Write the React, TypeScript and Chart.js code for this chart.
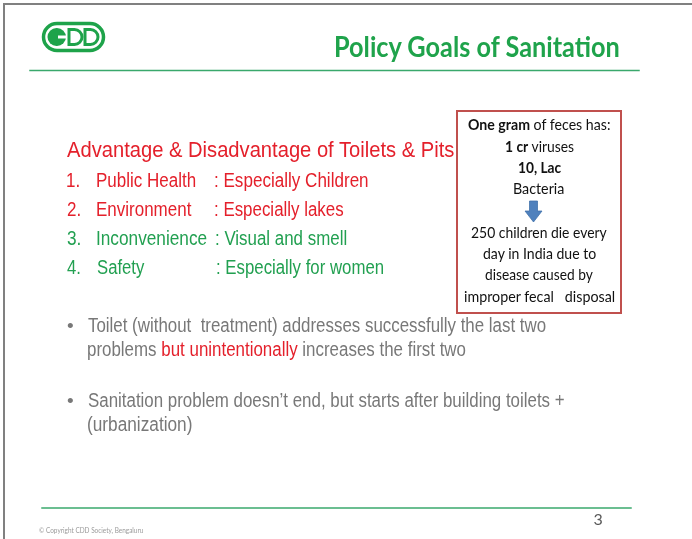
import React, { useEffect, useRef } from 'react';
import { Chart, registerables } from 'chart.js';

Chart.register(...registerables);

// ---------------- content ----------------
const slideTitle = 'Policy Goals of Sanitation';
const heading = 'Advantage & Disadvantage of Toilets & Pits';
const itemNumbers = ['1.', '2.', '3.', '4.'];
const itemLabels = ['Public Health', 'Environment', 'Inconvenience', 'Safety'];
const itemDetails = [': Especially Children', ': Especially lakes', ': Visual and smell', ': Especially for women'];
const itemKinds = ['problem', 'problem', 'solved', 'solved'];

type Seg = { t: string; b?: boolean; c?: string };

const bulletLines: Seg[][] = [
  [{ t: 'Toilet (without  treatment) addresses successfully the last two' }],
  [{ t: 'problems ' }, { t: 'but unintentionally', c: 'red' }, { t: ' increases the first two' }],
  [{ t: 'Sanitation problem doesn\u2019t end, but starts after building toilets +' }],
  [{ t: '(urbanization)' }],
];
const bulletStarts = [true, false, true, false];

const factLines: Seg[][] = [
  [{ t: 'One gram', b: true }, { t: ' of feces has:' }],
  [{ t: '1 cr', b: true }, { t: ' viruses' }],
  [{ t: '10, Lac', b: true }],
  [{ t: 'Bacteria' }],
];
const outcomeLines = ['250 children die every', 'day in India due to', 'disease caused by', 'improper fecal   disposal'];
const pageNumber = '3';
const copyright = '\u00A9 Copyright CDD Society, Bengaluru';

// ---------------- layout & style ----------------
const W = 692;
const H = 539;
const COLORS = {
  titleGreen: '#1fa34b',
  rule: '#3aa86c',
  red: '#e4202b',
  listGreen: '#22a051',
  gray: '#787878',
  border: '#808080',
  boxBorder: '#c0504d',
  arrow: '#4f81bd',
  arrowEdge: '#3d6fa8',
  boxText: '#111111',
  logo: '#1ea34a',
};
const CALIBRI = 'Lato, "Open Sans", sans-serif';
const ARIAL = '"Liberation Sans", Arial, sans-serif';

const listBaselines = [187, 216, 245, 274];
const labelWidths = [98.5, 95, 109.5, 47.5];
const detailLefts = [215, 215, 216, 216.7];
const detailWidths = [153, 129, 131, 166.5];
const bulletBaselines = [332, 356, 407, 431];
const bulletWidths = [458, 378, 476, 104];
const factBaselines = [130, 151.7, 172.7, 194];
const factWidths = [142, 69, 43, 50];
const outcomeBaselines = [238, 259, 280, 301.7];
const outcomeWidths = [136, 113, 108, 151];

// ---------------- text measuring helper ----------------
let mctx: CanvasRenderingContext2D | null = null;
function ctx2d() {
  if (!mctx) mctx = document.createElement('canvas').getContext('2d');
  return mctx as CanvasRenderingContext2D;
}
function fontStr(size: number, family: string, bold?: boolean) {
  return `${bold ? 'bold ' : ''}${size}px ${family}`;
}

interface TxtProps {
  segs: Seg[];
  size: number;
  family: string;
  baseline: number;
  left?: number;
  center?: number;
  width?: number;
  scale?: number;
  color: string;
  bold?: boolean;
  redColor?: string;
}

function inkInfo(segs: Seg[], size: number, family: string, bold?: boolean) {
  const c = ctx2d();
  let adv = 0, abl = 0, overR = 0;
  segs.forEach((s, i) => {
    c.font = fontStr(size, family, s.b ?? bold);
    const m = c.measureText(s.t);
    if (i === 0) abl = m.actualBoundingBoxLeft;
    if (i === segs.length - 1) overR = m.actualBoundingBoxRight - m.width;
    adv += m.width;
  });
  return { ink: adv + abl + overR, abl };
}

function fitScale(segs: Seg[], size: number, family: string, width: number, bold?: boolean) {
  return width / inkInfo(segs, size, family, bold).ink;
}

function Txt(p: TxtProps) {
  const c = ctx2d();
  const { ink, abl } = inkInfo(p.segs, p.size, p.family, p.bold);
  const sx = p.scale ?? (p.width ? p.width / ink : 1);
  const inkW = ink * sx;
  const inkLeft = p.left !== undefined ? p.left : (p.center as number) - inkW / 2;
  const divLeft = inkLeft + abl * sx;
  c.font = fontStr(p.size, p.family, p.bold);
  const mm = c.measureText('Hg');
  const A = mm.fontBoundingBoxAscent;
  const D = mm.fontBoundingBoxDescent;
  const lh = Math.ceil(A + D);
  const top = p.baseline - ((lh - (A + D)) / 2 + A);
  return (
    <div
      style={{
        position: 'absolute',
        left: divLeft,
        top,
        fontSize: p.size,
        fontFamily: p.family,
        fontWeight: p.bold ? 'bold' : 'normal',
        lineHeight: `${lh}px`,
        whiteSpace: 'pre',
        color: p.color,
        transform: `scaleX(${sx})`,
        transformOrigin: '0 0',
      }}
    >
      {p.segs.map((s, i) => (
        <span
          key={i}
          style={{
            fontWeight: s.b !== undefined ? (s.b ? 'bold' : 'normal') : undefined,
            color: s.c === 'red' ? p.redColor : undefined,
          }}
        >
          {s.t}
        </span>
      ))}
    </div>
  );
}

// ---------------- decorative plugin (logo + arrow) ----------------
const decorPlugin = {
  id: 'slideDecor',
  afterDatasetsDraw(chart: any) {
    const { ctx, scales } = chart;
    const X = (v: number) => scales.x.getPixelForValue(v);
    const Y = (v: number) => scales.y.getPixelForValue(v);
    ctx.save();
    // logo outline
    ctx.strokeStyle = COLORS.logo;
    ctx.fillStyle = COLORS.logo;
    ctx.lineWidth = 3.5;
    const ox = X(43.5), oy = Y(23.5), ow = X(103.5) - X(43.5), oh = Y(50.5) - Y(23.5);
    ctx.beginPath();
    ctx.roundRect(ox, oy, ow, oh, oh / 2);
    ctx.stroke();
    // C (filled)
    ctx.beginPath();
    ctx.roundRect(X(47.5), Y(28), X(66) - X(47.5), Y(46) - Y(28), 9);
    ctx.fill();
    ctx.fillStyle = '#ffffff';
    ctx.fillRect(X(58), Y(35.5), X(67) - X(58), Y(38.5) - Y(35.5));
    // D shapes
    ctx.lineWidth = 3;
    const drawD = (x0: number, x1: number) => {
      const r = (Y(44.5) - Y(29.5)) / 2;
      ctx.beginPath();
      ctx.moveTo(X(x0), Y(29.5));
      ctx.lineTo(X(x1) - r, Y(29.5));
      ctx.arc(X(x1) - r, Y(37), r, -Math.PI / 2, Math.PI / 2);
      ctx.lineTo(X(x0), Y(44.5));
      ctx.closePath();
      ctx.stroke();
    };
    drawD(69, 82);
    drawD(85, 98);
    // arrow
    ctx.beginPath();
    const pts = [
      [529.5, 201], [537.5, 201], [537.5, 211], [542, 211], [533.5, 222], [525, 211], [529.5, 211],
    ];
    pts.forEach(([px, py], i) => (i === 0 ? ctx.moveTo(X(px), Y(py)) : ctx.lineTo(X(px), Y(py))));
    ctx.closePath();
    ctx.fillStyle = COLORS.arrow;
    ctx.fill();
    ctx.lineWidth = 0.75;
    ctx.strokeStyle = COLORS.arrowEdge;
    ctx.stroke();
    ctx.restore();
  },
};

function lineSet(points: { x: number; y: number }[], color: string, width: number) {
  return {
    data: points,
    showLine: true,
    borderColor: color,
    borderWidth: width,
    pointRadius: 0,
    pointHoverRadius: 0,
    borderCapStyle: 'square' as const,
    borderJoinStyle: 'miter' as const,
    fill: false,
    tension: 0,
  };
}

export default function App() {
  const ref = useRef<HTMLCanvasElement>(null);

  useEffect(() => {
    if (!ref.current) return;
    const chart = new Chart(ref.current, {
      type: 'scatter',
      data: {
        datasets: [
          lineSet([{ x: 4, y: H }, { x: 4, y: 4 }, { x: W, y: 4 }], COLORS.border, 2),
          lineSet([{ x: 30, y: 70.5 }, { x: 639, y: 70.5 }], COLORS.rule, 1.5),
          lineSet([{ x: 42, y: 508 }, { x: 631, y: 508 }], COLORS.rule, 1.5),
          lineSet(
            [
              { x: 457, y: 111 },
              { x: 621, y: 111 },
              { x: 621, y: 313 },
              { x: 457, y: 313 },
              { x: 457, y: 111 },
            ],
            COLORS.boxBorder,
            2,
          ),
        ],
      },
      options: {
        responsive: false,
        maintainAspectRatio: false,
        animation: false,
        devicePixelRatio: 1,
        layout: { padding: 0 },
        events: [],
        plugins: { legend: { display: false }, tooltip: { enabled: false }, title: { display: false } },
        scales: {
          x: { type: 'linear', min: 0, max: W, display: false },
          y: { type: 'linear', min: 0, max: H, reverse: true, display: false },
        },
      },
      plugins: [decorPlugin],
    });
    return () => chart.destroy();
  }, []);

  const texts: React.ReactNode[] = [];

  texts.push(
    <Txt key="title" segs={[{ t: slideTitle }]} size={29} family={CALIBRI} bold baseline={57} left={336} width={284} color={COLORS.titleGreen} />,
  );
  texts.push(
    <Txt key="heading" segs={[{ t: heading }]} size={21.5} family={ARIAL} baseline={156.5} left={66.5} width={387} color={COLORS.red} />,
  );

  itemLabels.forEach((label, i) => {
    const color = itemKinds[i] === 'problem' ? COLORS.red : COLORS.listGreen;
    const s = fitScale([{ t: label }], 19.5, ARIAL, labelWidths[i]);
    texts.push(
      <Txt key={'n' + i} segs={[{ t: itemNumbers[i] }]} size={19.5} family={ARIAL} baseline={listBaselines[i]} left={66.7} scale={s} color={color} />,
    );
    texts.push(
      <Txt key={'l' + i} segs={[{ t: label }]} size={19.5} family={ARIAL} baseline={listBaselines[i]} left={96.7} width={labelWidths[i]} color={color} />,
    );
    texts.push(
      <Txt key={'d' + i} segs={[{ t: itemDetails[i] }]} size={19.5} family={ARIAL} baseline={listBaselines[i]} left={detailLefts[i]} width={detailWidths[i]} color={color} />,
    );
  });

  bulletLines.forEach((segs, i) => {
    if (bulletStarts[i]) {
      texts.push(
        <Txt key={'b' + i} segs={[{ t: '\u2022' }]} size={19} family={ARIAL} baseline={bulletBaselines[i]} left={67} color={COLORS.gray} />,
      );
    }
    texts.push(
      <Txt key={'bl' + i} segs={segs} size={20} family={ARIAL} baseline={bulletBaselines[i]} left={88} width={bulletWidths[i]} color={COLORS.gray} redColor={COLORS.red} />,
    );
  });

  factLines.forEach((segs, i) => {
    texts.push(
      <Txt key={'f' + i} segs={segs} size={15} family={CALIBRI} baseline={factBaselines[i]} center={539} width={factWidths[i]} color={COLORS.boxText} />,
    );
  });
  outcomeLines.forEach((line, i) => {
    texts.push(
      <Txt key={'o' + i} segs={[{ t: line }]} size={15} family={CALIBRI} baseline={outcomeBaselines[i]} center={539} width={outcomeWidths[i]} color={COLORS.boxText} />,
    );
  });

  texts.push(
    <Txt key="page" segs={[{ t: pageNumber }]} size={16} family={CALIBRI} baseline={525} left={593.5} color="#595959" />,
  );
  texts.push(
    <Txt key="copy" segs={[{ t: copyright }]} size={8} family={CALIBRI} baseline={533} left={38.5} width={104} color="#9a9a9a" />,
  );

  return (
    <div
      style={{
        position: 'fixed',
        left: 0,
        top: 0,
        width: W,
        height: H,
        background: '#ffffff',
        overflow: 'hidden',
      }}
    >
      <canvas ref={ref} width={W} height={H} style={{ position: 'absolute', left: 0, top: 0, width: W, height: H }} />
      {texts}
    </div>
  );
}
